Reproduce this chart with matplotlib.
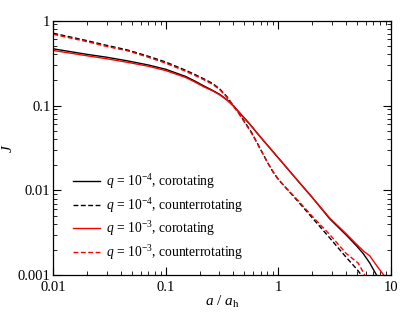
import matplotlib
matplotlib.use("Agg")
import matplotlib.pyplot as plt
from matplotlib.ticker import LogLocator, NullFormatter, FixedLocator, FixedFormatter

plt.rcParams['font.family'] = ['Liberation Serif', 'DejaVu Serif']
plt.rcParams['mathtext.fontset'] = 'custom'
plt.rcParams['mathtext.rm'] = 'Liberation Serif'
plt.rcParams['mathtext.it'] = 'Liberation Serif:italic'

# q = 1e-4, corotating
x_co4 = [0.01, 0.02, 0.03, 0.046, 0.07, 0.1, 0.15, 0.18, 0.22, 0.26, 0.3, 0.35, 0.4, 0.45, 0.5, 0.56, 0.7, 1.0, 1.5, 2.0, 2.88, 4.0, 5.0, 5.7, 6.5, 7.5]
J_co4 = [0.465, 0.40, 0.37, 0.335, 0.30, 0.267, 0.22, 0.195, 0.169, 0.151, 0.136, 0.117, 0.099, 0.083, 0.071, 0.060, 0.042, 0.0242, 0.0129, 0.0083, 0.0046, 0.0030, 0.0022, 0.0018, 0.0014, 0.001]
# q = 1e-4, counterrotating
x_ct4 = [0.01, 0.02, 0.03, 0.046, 0.07, 0.1, 0.15, 0.18, 0.22, 0.26, 0.3, 0.35, 0.4, 0.45, 0.5, 0.58, 0.7, 0.8, 0.9, 1.0, 1.2, 1.5, 2.05, 2.88, 4.0, 5.0, 5.5]
J_ct4 = [0.71, 0.58, 0.51, 0.45, 0.38, 0.325, 0.26, 0.233, 0.205, 0.182, 0.158, 0.127, 0.099, 0.080, 0.065, 0.048, 0.030, 0.0215, 0.0165, 0.0135, 0.0103, 0.0074, 0.0046, 0.00274, 0.00164, 0.00118, 0.001]
# q = 1e-3, corotating
x_co3 = [0.01, 0.02, 0.03, 0.046, 0.07, 0.1, 0.15, 0.18, 0.22, 0.26, 0.3, 0.35, 0.4, 0.45, 0.5, 0.56, 0.7, 1.0, 1.5, 2.0, 2.88, 4.0, 5.0, 5.8, 6.5, 7.5, 8.7]
J_co3 = [0.445, 0.385, 0.355, 0.322, 0.29, 0.258, 0.214, 0.19, 0.165, 0.149, 0.134, 0.116, 0.098, 0.083, 0.071, 0.060, 0.042, 0.0242, 0.0129, 0.0083, 0.0047, 0.0031, 0.0023, 0.0019, 0.0017, 0.0013, 0.001]
# q = 1e-3, counterrotating
x_ct3 = [0.01, 0.02, 0.03, 0.046, 0.07, 0.1, 0.15, 0.18, 0.22, 0.26, 0.3, 0.35, 0.4, 0.45, 0.5, 0.58, 0.7, 0.8, 0.9, 1.0, 1.2, 1.5, 2.05, 2.88, 4.0, 5.14, 5.9]
J_ct3 = [0.69, 0.565, 0.495, 0.44, 0.37, 0.315, 0.253, 0.227, 0.2, 0.178, 0.155, 0.125, 0.098, 0.079, 0.064, 0.047, 0.030, 0.0215, 0.0165, 0.0135, 0.0104, 0.0076, 0.0048, 0.0030, 0.00182, 0.00139, 0.001]

labels = [r'$q$ = 10$^{-4}$, corotating',
          r'$q$ = 10$^{-4}$, counterrotating',
          r'$q$ = 10$^{-3}$, corotating',
          r'$q$ = 10$^{-3}$, counterrotating']

x_ticks = [0.01, 0.1, 1, 10]
x_ticklabels = ['0.01', '0.1', '1', '10']
y_ticks = [0.001, 0.01, 0.1, 1]
y_ticklabels = ['0.001', '0.01', '0.1', '1']

fig = plt.figure(figsize=(4.07, 3.17), dpi=100)
ax = fig.add_axes([0.131, 0.1315, 0.829, 0.8035])

dash = (0, (3.5, 1.8))
ax.plot(x_co4, J_co4, color='black', lw=1.0, label=labels[0])
ax.plot(x_ct4, J_ct4, color='black', lw=1.0, ls=dash, label=labels[1])
ax.plot(x_co3, J_co3, color='#ff0000', lw=1.0, label=labels[2])
ax.plot(x_ct3, J_ct3, color='#ff0000', lw=1.0, ls=dash, label=labels[3])

ax.set_xscale('log')
ax.set_yscale('log')
ax.set_xlim(0.01, 10)
ax.set_ylim(0.001, 1)

ax.xaxis.set_major_locator(FixedLocator(x_ticks))
ax.xaxis.set_major_formatter(FixedFormatter(x_ticklabels))
ax.yaxis.set_major_locator(FixedLocator(y_ticks))
ax.yaxis.set_major_formatter(FixedFormatter(y_ticklabels))
ax.xaxis.set_minor_locator(LogLocator(base=10, subs=range(2, 10)))
ax.yaxis.set_minor_locator(LogLocator(base=10, subs=range(2, 10)))
ax.xaxis.set_minor_formatter(NullFormatter())
ax.yaxis.set_minor_formatter(NullFormatter())

ax.tick_params(which='both', direction='in', top=True, right=True, labelsize=10.5)
ax.tick_params(which='major', length=6, width=0.8)
ax.tick_params(which='minor', length=3, width=0.6)
ax.tick_params(axis='x', pad=4)
ax.tick_params(axis='y', pad=2)
for s in ax.spines.values():
    s.set_linewidth(0.9)

ax.set_xlabel(r'$a$ / $a_{\mathrm{h}}$', fontsize=11, labelpad=0)
ax.set_ylabel(r'$J$', fontsize=11)
ax.yaxis.set_label_coords(-0.113, 0.5)

leg = ax.legend(loc='upper left', bbox_to_anchor=(0.0575, 0.405), frameon=False,
                fontsize=9.8, handlelength=2.0, handletextpad=0.45,
                labelspacing=0.34, borderpad=0, borderaxespad=0)

fig.savefig('out.png', dpi=100)
